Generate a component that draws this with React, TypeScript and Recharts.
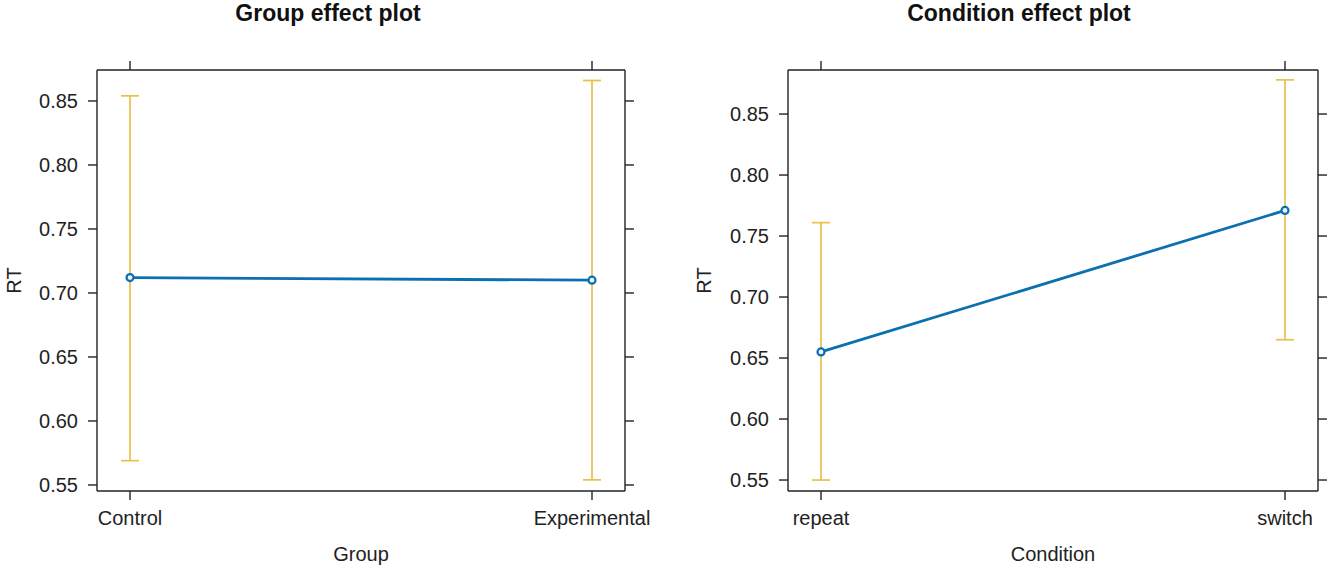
import React from 'react';
import { LineChart, Line, XAxis, YAxis, ErrorBar } from 'recharts';

// Group effect plot
const groupLevels = ['Control', 'Experimental'];
const groupRT = [0.712, 0.710];
const groupLower = [0.569, 0.554];
const groupUpper = [0.854, 0.866];

// Condition effect plot
const conditionLevels = ['repeat', 'switch'];
const conditionRT = [0.655, 0.771];
const conditionLower = [0.550, 0.665];
const conditionUpper = [0.761, 0.878];

const rtTicks = [0.55, 0.6, 0.65, 0.7, 0.75, 0.8, 0.85];

const BLUE = '#0b6fb0';
const GOLD = '#e8c14a';
const INK = '#222';
const FONT = '"Liberation Sans", Arial, sans-serif';

interface PanelProps {
  title: string;
  xLabel: string;
  levels: string[];
  fit: number[];
  lower: number[];
  upper: number[];
  domain: [number, number];
  left: number;
  yAxisWidth: number;
  yLabelOffset: number;
  rightAxisWidth: number;
  rightMargin: number;
  titleCenter: number;
}

const blank = () => '';

const EffectPanel: React.FC<PanelProps> = (p) => {
  const rows = p.levels.map((lvl, i) => ({
    level: lvl,
    rt: p.fit[i],
    ci: [p.fit[i] - p.lower[i], p.upper[i] - p.fit[i]],
  }));

  const axisLine = { stroke: INK, strokeWidth: 1.4 };
  const tickStyle = { fill: INK, fontSize: 20, fontFamily: FONT };

  return (
    <div style={{ position: 'absolute', left: p.left, top: 0, width: 664, height: 572 }}>
      <div
        style={{
          position: 'absolute',
          left: p.titleCenter - 200,
          top: 2,
          width: 400,
          textAlign: 'center',
          fontFamily: FONT,
          fontWeight: 'bold',
          fontSize: 23,
          lineHeight: '23px',
          color: '#111',
        }}
      >
        {p.title}
      </div>
      <LineChart
        width={664}
        height={572}
        data={rows}
        margin={{ top: 61, right: p.rightMargin, left: 7, bottom: 0 }}
      >
        <XAxis
          dataKey="level"
          type="category"
          interval={0}
          padding={{ left: 33, right: 33 }}
          height={81}
          axisLine={axisLine}
          tickLine={axisLine}
          tickSize={9}
          tickMargin={11}
          tick={tickStyle}
          label={{ value: p.xLabel, position: 'insideBottom', offset: 11, fill: INK, fontSize: 20, fontFamily: FONT }}
        />
        <XAxis
          xAxisId="top"
          orientation="top"
          dataKey="level"
          type="category"
          interval={0}
          padding={{ left: 33, right: 33 }}
          height={9}
          axisLine={axisLine}
          tickLine={axisLine}
          tickSize={9}
          tickFormatter={blank}
        />
        <YAxis
          type="number"
          domain={p.domain}
          allowDataOverflow
          ticks={rtTicks}
          interval={0}
          width={p.yAxisWidth}
          axisLine={axisLine}
          tickLine={axisLine}
          tickSize={9}
          tickMargin={10}
          tick={tickStyle}
          tickFormatter={(v: number) => v.toFixed(2)}
          label={{
            value: 'RT',
            angle: -90,
            position: 'insideLeft',
            offset: p.yLabelOffset,
            fill: INK,
            fontSize: 20,
            fontFamily: FONT,
            style: { textAnchor: 'middle' },
          }}
        />
        <YAxis
          yAxisId="right"
          orientation="right"
          type="number"
          domain={p.domain}
          allowDataOverflow
          ticks={rtTicks}
          interval={0}
          width={p.rightAxisWidth}
          axisLine={axisLine}
          tickLine={axisLine}
          tickSize={9}
          tickFormatter={blank}
        />
        <Line
          dataKey="rt"
          type="linear"
          stroke={BLUE}
          strokeWidth={2.8}
          dot={{ r: 3.5, stroke: BLUE, strokeWidth: 2.2, fill: '#eaf3fa' }}
          activeDot={false}
          isAnimationActive={false}
        >
          <ErrorBar dataKey="ci" direction="y" width={9} stroke={GOLD} strokeWidth={1.7} />
        </Line>
      </LineChart>
    </div>
  );
};

export default function App() {
  return (
    <div style={{ position: 'absolute', left: 0, top: 0, width: 1328, height: 572, background: '#fff' }}>
      <EffectPanel
        title="Group effect plot"
        xLabel="Group"
        levels={groupLevels}
        fit={groupRT}
        lower={groupLower}
        upper={groupUpper}
        domain={[0.5453, 0.8742]}
        left={0}
        yAxisWidth={90}
        yLabelOffset={7}
        rightAxisWidth={20}
        rightMargin={19}
        titleCenter={328}
      />
      <EffectPanel
        title="Condition effect plot"
        xLabel="Condition"
        levels={conditionLevels}
        fit={conditionRT}
        lower={conditionLower}
        upper={conditionUpper}
        domain={[0.541, 0.8861]}
        left={664}
        yAxisWidth={117}
        yLabelOffset={33}
        rightAxisWidth={10}
        rightMargin={0}
        titleCenter={355}
      />
    </div>
  );
}
